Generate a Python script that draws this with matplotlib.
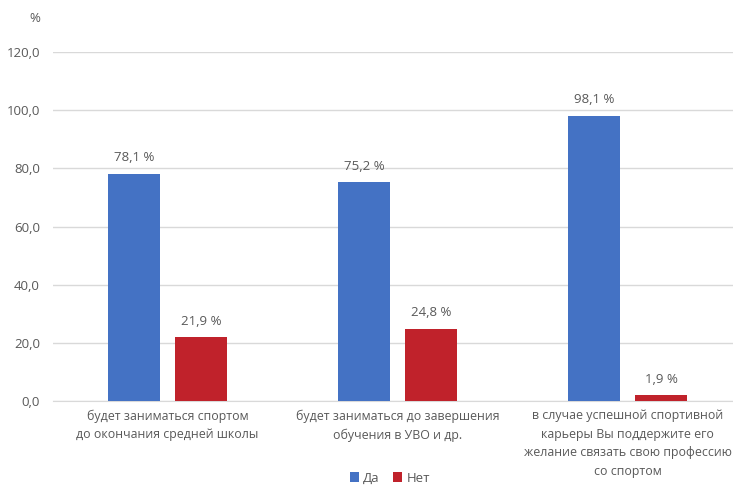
import numpy as np
import matplotlib.pyplot as plt

categories = [
    "будет заниматься спортом\nдо окончания средней школы",
    "будет заниматься до завершения\nобучения в УВО и др.",
    "в случае успешной спортивной\nкарьеры Вы поддержите его\nжелание связать свою профессию\nсо спортом",
]
yes_vals = [78.1, 75.2, 98.1]
no_vals = [21.9, 24.8, 1.9]
series_names = ["Да", "Нет"]
yticks = [0, 20, 40, 60, 80, 100, 120]

plt.rcParams['font.family'] = ['Open Sans', 'DejaVu Sans']
gray = '#595959'
blue = '#4472C4'
red = '#C0222B'
fs = 9.5

fig = plt.figure(figsize=(7.33, 4.87), dpi=100)
# axes extends past the right edge of the figure like the cropped original
ax = fig.add_axes([52.5 / 733, (487 - 401) / 487, 690 / 733, 349 / 487])

x = np.arange(len(categories))
w = 0.226
off = 0.146
b1 = ax.bar(x - off, yes_vals, w, color=blue, label=series_names[0], zorder=3)
b2 = ax.bar(x + off, no_vals, w, color=red, label=series_names[1], zorder=3)

for bars, vals in ((b1, yes_vals), (b2, no_vals)):
    for b, v in zip(bars, vals):
        ax.text(b.get_x() + b.get_width() / 2, v + 3.3,
                f"{v:.1f} %".replace('.', ','), ha='center', va='bottom',
                fontsize=fs, color=gray)

ax.set_xlim(-0.5, 2.5)
ax.set_ylim(0, 120)
ax.set_yticks(yticks)
ax.set_yticklabels([f"{t:.1f}".replace('.', ',') for t in yticks],
                   fontsize=fs, color=gray)
ax.yaxis.grid(True, color='#D9D9D9', linewidth=1, zorder=0)
ax.set_xticks(x)
ax.set_xticklabels(categories, fontsize=8.9, color=gray, linespacing=1.55)
ax.tick_params(axis='both', length=0)
ax.tick_params(axis='y', pad=9)
ax.tick_params(axis='x', pad=6)
for s in ['top', 'right', 'left']:
    ax.spines[s].set_visible(False)
ax.spines['bottom'].set_color('#D9D9D9')

fig.text(35 / 733, 1 - 18 / 487, "%", fontsize=fs, color=gray,
         ha='center', va='center')

fig.legend(loc='center', bbox_to_anchor=(390 / 733, 1 - 478 / 487),
           ncol=2, frameon=False, fontsize=fs, labelcolor=gray,
           handlelength=0.7, handleheight=0.7, handletextpad=0.3,
           columnspacing=1.0)

fig.savefig('out.png', dpi=100)
